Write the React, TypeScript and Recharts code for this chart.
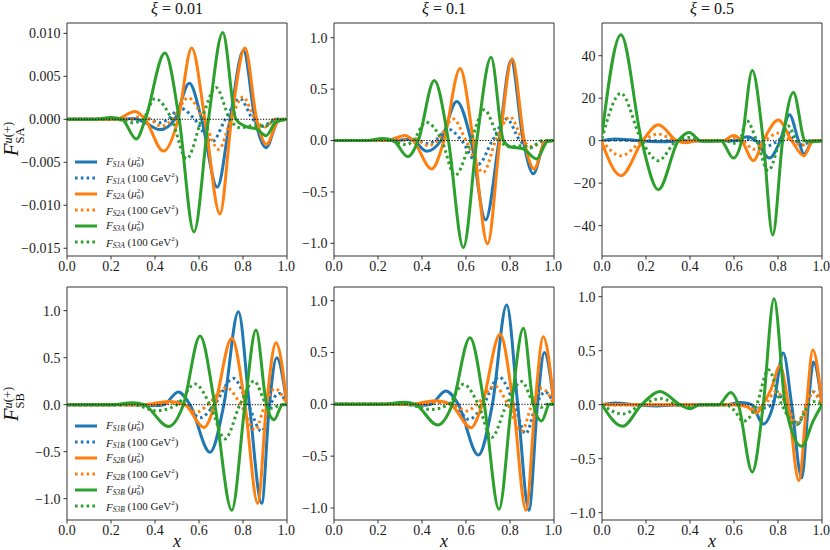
import React from "react";
import { Line, LineChart, ReferenceArea, ReferenceLine, XAxis, YAxis } from "recharts";

type Pt = [number, number];

// x ticks shared by every panel, skewness values for column titles
const X_TICKS = [0, 0.2, 0.4, 0.6, 0.8, 1];
const XI_LABELS = ["0.01", "0.1", "0.5"];

// y ticks per panel
const TICKS_SA_001 = [-0.015, -0.01, -0.005, 0, 0.005, 0.01];
const TICKS_SA_01 = [-1, -0.5, 0, 0.5, 1];
const TICKS_SA_05 = [-40, -20, 0, 20, 40];
const TICKS_SB = [-1, -0.5, 0, 0.5, 1];

// ---- F_SA, xi = 0.01 ----
const SA001_S1_MU: Pt[] = [[0, 0], [0.25, 0], [0.3, 0.0001], [0.35, -0.0003], [0.423, -0.0012], [0.49, 0], [0.556, 0.0042], [0.612, 0], [0.683, -0.0079], [0.741, 0], [0.802, 0.008], [0.855, 0], [0.905, -0.0033], [0.96, -0.0002], [1, 0]];
const SA001_S1_100: Pt[] = [[0, 0], [0.3, 0], [0.35, 0.0002], [0.42, -0.0004], [0.46, 0], [0.515, 0.0013], [0.58, 0], [0.66, -0.0026], [0.72, 0], [0.786, 0.0024], [0.845, 0], [0.89, -0.0008], [0.95, 0], [1, 0]];
const SA001_S2_MU: Pt[] = [[0, 0], [0.22, 0], [0.31, 0.0009], [0.355, 0], [0.438, -0.0037], [0.505, 0], [0.567, 0.0083], [0.627, 0], [0.695, -0.011], [0.748, 0], [0.809, 0.0083], [0.862, 0], [0.907, -0.0029], [0.96, -0.0002], [1, 0]];
const SA001_S2_100: Pt[] = [[0, 0], [0.28, 0], [0.33, 0.0003], [0.38, 0], [0.43, -0.0008], [0.48, 0], [0.551, 0.0025], [0.62, 0], [0.69, -0.0035], [0.745, 0], [0.8, 0.0026], [0.855, 0], [0.9, -0.0009], [0.95, 0], [1, 0]];
const SA001_S3_MU: Pt[] = [[0, 0], [0.12, 0], [0.2, 0.0002], [0.25, 0], [0.315, -0.0023], [0.356, 0], [0.445, 0.0077], [0.51, 0], [0.577, -0.0131], [0.643, 0], [0.708, 0.0101], [0.768, 0], [0.82, -0.0009], [0.86, -0.0011], [0.905, -0.0019], [0.95, -0.0003], [1, 0]];
const SA001_S3_100: Pt[] = [[0, 0], [0.22, 0], [0.3, -0.0004], [0.345, 0], [0.4, 0.0024], [0.476, 0], [0.544, -0.0046], [0.612, 0], [0.677, 0.0037], [0.741, 0], [0.79, -0.001], [0.85, -0.0007], [0.9, -0.0008], [0.95, 0], [1, 0]];

// ---- F_SA, xi = 0.1 ----
const SA01_S1_MU: Pt[] = [[0, 0], [0.28, 0], [0.33, 0.01], [0.36, 0], [0.421, -0.104], [0.486, 0], [0.558, 0.38], [0.623, 0], [0.689, -0.772], [0.75, 0], [0.805, 0.778], [0.86, 0], [0.906, -0.324], [0.96, -0.01], [1, 0]];
const SA01_S1_100: Pt[] = [[0, 0], [0.3, 0], [0.36, 0.02], [0.43, -0.03], [0.46, 0], [0.52, 0.11], [0.58, 0], [0.656, -0.23], [0.72, 0], [0.785, 0.21], [0.845, 0], [0.89, -0.07], [0.96, 0], [1, 0]];
const SA01_S2_MU: Pt[] = [[0, 0], [0.24, 0], [0.323, 0.05], [0.36, 0], [0.444, -0.276], [0.5, 0], [0.573, 0.7], [0.633, 0], [0.698, -1.005], [0.754, 0], [0.81, 0.795], [0.865, 0], [0.91, -0.276], [0.96, -0.01], [1, 0]];
const SA01_S2_100: Pt[] = [[0, 0], [0.3, 0], [0.36, 0.02], [0.43, -0.05], [0.47, 0], [0.542, 0.21], [0.6, 0], [0.679, -0.31], [0.735, 0], [0.8, 0.23], [0.86, 0], [0.9, -0.06], [0.96, 0], [1, 0]];
const SA01_S3_MU: Pt[] = [[0, 0], [0.15, 0], [0.22, 0.02], [0.27, 0], [0.335, -0.156], [0.383, 0], [0.456, 0.584], [0.52, 0], [0.588, -1.04], [0.649, 0], [0.714, 0.81], [0.77, 0], [0.8, -0.06], [0.86, -0.08], [0.921, -0.18], [0.97, -0.01], [1, 0]];
const SA01_S3_100: Pt[] = [[0, 0], [0.25, 0], [0.33, -0.04], [0.36, 0], [0.417, 0.178], [0.49, 0], [0.55, -0.34], [0.623, 0], [0.683, 0.3], [0.754, 0], [0.8, -0.06], [0.86, -0.05], [0.89, -0.07], [0.95, 0], [1, 0]];

// ---- F_SA, xi = 0.5 ----
const SA05_S1_MU: Pt[] = [[0, 0], [0.06, 0.8], [0.15, 0.2], [0.25, -0.5], [0.35, -0.2], [0.45, 0], [0.6, 0], [0.66, 1.9], [0.7, 0], [0.761, -8.2], [0.81, 0], [0.852, 12.2], [0.893, 0], [0.918, -6.3], [0.96, 0], [1, 0]];
const SA05_S1_100: Pt[] = [[0, 0], [0.06, 0.3], [0.2, 0], [0.6, 0], [0.66, 0.6], [0.7, 0], [0.75, -2.5], [0.8, 0], [0.845, 3.7], [0.88, 0], [0.91, -2], [0.96, 0], [1, 0]];
const SA05_S2_MU: Pt[] = [[0, -1], [0.086, -16.5], [0.185, 0], [0.256, 7.5], [0.34, 0], [0.38, -1], [0.43, 0], [0.55, 0], [0.597, 2.4], [0.635, 0], [0.688, -9.4], [0.733, 0], [0.802, 9.7], [0.862, 0], [0.918, -7.1], [0.96, 0], [1, 0]];
const SA05_S2_100: Pt[] = [[0, 0], [0.086, -7.1], [0.185, 0], [0.256, 3.1], [0.34, 0], [0.55, 0], [0.6, 1.2], [0.64, 0], [0.69, -4], [0.74, 0], [0.8, 3.5], [0.86, 0], [0.91, -2.2], [0.96, 0], [1, 0]];
const SA05_S3_MU: Pt[] = [[0, 3], [0.086, 49.9], [0.18, 0], [0.256, -23.1], [0.347, 0], [0.397, 3.9], [0.446, 0], [0.48, -0.3], [0.54, 0], [0.597, -8.2], [0.635, 0], [0.683, 33], [0.733, 0], [0.776, -44.4], [0.821, 0], [0.87, 22.7], [0.923, 0], [0.95, -0.5], [1, 0]];
const SA05_S3_100: Pt[] = [[0, 1], [0.086, 22.3], [0.18, 0], [0.256, -9.4], [0.34, 0], [0.4, 1.5], [0.45, 0], [0.56, 0], [0.6, -1.2], [0.625, 0], [0.658, 9.4], [0.703, 0], [0.756, -14.1], [0.81, 0], [0.845, 7], [0.89, 0], [0.95, 0], [1, 0]];

// ---- F_SB, xi = 0.01 ----
const SB001_S1_MU: Pt[] = [[0, 0], [0.3, 0], [0.4, -0.01], [0.44, 0], [0.506, 0.135], [0.559, 0], [0.65, -0.506], [0.713, 0], [0.779, 0.99], [0.829, 0], [0.885, -1.05], [0.92, 0], [0.953, 0.5], [1, 0]];
const SB001_S1_100: Pt[] = [[0, 0], [0.4, 0], [0.5, 0.03], [0.54, 0], [0.605, -0.14], [0.67, 0], [0.756, 0.28], [0.824, 0], [0.885, -0.285], [0.925, 0], [0.965, 0.12], [1, 0]];
const SB001_S2_MU: Pt[] = [[0, 0], [0.35, 0], [0.46, 0.035], [0.535, 0], [0.623, -0.242], [0.672, 0], [0.749, 0.706], [0.809, 0], [0.867, -1.05], [0.907, 0], [0.95, 0.66], [1, 0]];
const SB001_S2_100: Pt[] = [[0, 0], [0.4, 0], [0.47, 0.02], [0.53, 0], [0.59, -0.08], [0.64, 0], [0.725, 0.18], [0.79, 0], [0.855, -0.27], [0.9, 0], [0.945, 0.17], [1, 0]];
const SB001_S3_MU: Pt[] = [[0, 0], [0.2, 0], [0.3, 0.02], [0.35, 0], [0.461, -0.232], [0.529, 0], [0.605, 0.731], [0.672, 0], [0.749, -1.123], [0.809, 0], [0.859, 0.795], [0.907, 0], [0.941, -0.16], [0.98, 0], [1, 0]];
const SB001_S3_100: Pt[] = [[0, 0], [0.3, 0], [0.407, -0.064], [0.5, 0], [0.582, 0.22], [0.65, 0], [0.718, -0.364], [0.786, 0], [0.85, 0.25], [0.907, 0], [0.935, -0.04], [0.97, 0], [1, 0]];

// ---- F_SB, xi = 0.1 ----
const SB01_S1_MU: Pt[] = [[0, 0], [0.3, 0], [0.4, -0.01], [0.44, 0], [0.508, 0.129], [0.565, 0], [0.656, -0.489], [0.72, 0], [0.785, 0.958], [0.835, 0], [0.886, -1.022], [0.925, 0], [0.956, 0.5], [1, 0]];
const SB01_S1_100: Pt[] = [[0, 0], [0.42, 0], [0.5, 0.02], [0.545, 0], [0.613, -0.145], [0.68, 0], [0.75, 0.264], [0.82, 0], [0.871, -0.283], [0.92, 0], [0.96, 0.12], [1, 0]];
const SB01_S2_MU: Pt[] = [[0, 0], [0.35, 0], [0.46, 0.035], [0.53, 0], [0.623, -0.225], [0.674, 0], [0.755, 0.675], [0.815, 0], [0.873, -1.022], [0.914, 0], [0.951, 0.653], [1, 0]];
const SB01_S2_100: Pt[] = [[0, 0], [0.4, 0], [0.48, 0.02], [0.54, 0], [0.603, -0.064], [0.65, 0], [0.732, 0.177], [0.79, 0], [0.853, -0.257], [0.9, 0], [0.944, 0.155], [1, 0]];
const SB01_S3_MU: Pt[] = [[0, 0], [0.22, 0], [0.32, 0.02], [0.37, 0], [0.471, -0.2], [0.538, 0], [0.618, 0.643], [0.683, 0], [0.75, -1.013], [0.807, 0], [0.861, 0.733], [0.906, 0], [0.944, -0.16], [0.98, 0], [1, 0]];
const SB01_S3_100: Pt[] = [[0, 0], [0.32, 0], [0.444, -0.05], [0.52, 0], [0.588, 0.193], [0.656, 0], [0.716, -0.32], [0.785, 0], [0.853, 0.22], [0.91, 0], [0.94, -0.03], [0.97, 0], [1, 0]];

// ---- F_SB, xi = 0.5 ----
const SB05_S1_MU: Pt[] = [[0, 0], [0.06, 0.015], [0.15, 0], [0.25, -0.012], [0.35, 0], [0.56, 0], [0.63, 0.02], [0.68, 0], [0.733, -0.18], [0.779, 0], [0.824, 0.478], [0.862, 0], [0.908, -0.679], [0.938, 0], [0.961, 0.395], [1, 0]];
const SB05_S1_100: Pt[] = [[0, 0], [0.6, 0], [0.66, 0.01], [0.7, -0.03], [0.74, -0.03], [0.77, 0], [0.8, 0.09], [0.84, 0], [0.89, -0.18], [0.93, 0], [0.96, 0.12], [1, 0]];
const SB05_S2_MU: Pt[] = [[0, 0], [0.6, 0], [0.66, -0.02], [0.703, -0.077], [0.73, 0], [0.77, 0.15], [0.809, 0.36], [0.847, 0], [0.895, -0.704], [0.93, 0], [0.958, 0.506], [1, 0]];
const SB05_S2_100: Pt[] = [[0, 0], [0.62, 0], [0.7, -0.04], [0.74, 0], [0.79, 0.12], [0.84, 0], [0.885, -0.17], [0.93, 0], [0.956, 0.117], [1, 0]];
const SB05_S3_MU: Pt[] = [[0, 0], [0.094, -0.2], [0.18, 0], [0.264, 0.123], [0.355, 0], [0.4, -0.037], [0.445, 0], [0.53, 0], [0.585, 0.114], [0.62, 0], [0.683, -0.623], [0.733, 0], [0.782, 0.981], [0.833, 0], [0.908, -0.386], [0.96, -0.15], [1, 0]];
const SB05_S3_100: Pt[] = [[0, 0], [0.094, -0.086], [0.18, 0], [0.27, 0.056], [0.34, 0], [0.4, -0.02], [0.45, 0], [0.56, 0], [0.6, -0.05], [0.642, -0.154], [0.703, 0], [0.756, 0.324], [0.817, 0], [0.885, -0.185], [0.94, 0], [0.97, 0.03], [1, 0]];

// ---- styling / layout ----
const FONT = "Liberation Serif, DejaVu Serif, serif";
const BLUE = "#1f77b4";
const ORANGE = "#ff7f0e";
const GREEN = "#2ca02c";
const COLORS = [BLUE, BLUE, ORANGE, ORANGE, GREEN, GREEN];
const DOTTED = "2.6 3.2";

const COL_LEFT = [67, 334, 602];
const ROW_TOP = [23, 287];
const PLOT_W = 220;
const PLOT_H = 233;
const AXIS_W = 60;
const TOP_PAD = 10;
const RIGHT_PAD = 8;
const XAXIS_H = 28;

const minus = (s: string) => s.replace("-", "\u2212");
const fmt = (digits: number) => (v: number) => minus(v.toFixed(digits));

interface PanelSpec {
  col: number;
  row: number;
  domain: [number, number];
  ticks: number[];
  digits: number;
  curves: Pt[][];
}

const PANELS: PanelSpec[] = [
  { col: 0, row: 0, domain: [-0.0159, 0.0112], ticks: TICKS_SA_001, digits: 3, curves: [SA001_S1_MU, SA001_S1_100, SA001_S2_MU, SA001_S2_100, SA001_S3_MU, SA001_S3_100] },
  { col: 1, row: 0, domain: [-1.123, 1.143], ticks: TICKS_SA_01, digits: 1, curves: [SA01_S1_MU, SA01_S1_100, SA01_S2_MU, SA01_S2_100, SA01_S3_MU, SA01_S3_100] },
  { col: 2, row: 0, domain: [-54.3, 55.4], ticks: TICKS_SA_05, digits: 0, curves: [SA05_S1_MU, SA05_S1_100, SA05_S2_MU, SA05_S2_100, SA05_S3_MU, SA05_S3_100] },
  { col: 0, row: 1, domain: [-1.227, 1.252], ticks: TICKS_SB, digits: 1, curves: [SB001_S1_MU, SB001_S1_100, SB001_S2_MU, SB001_S2_100, SB001_S3_MU, SB001_S3_100] },
  { col: 1, row: 1, domain: [-1.116, 1.132], ticks: TICKS_SB, digits: 1, curves: [SB01_S1_MU, SB01_S1_100, SB01_S2_MU, SB01_S2_100, SB01_S3_MU, SB01_S3_100] },
  { col: 2, row: 1, domain: [-1.068, 1.09], ticks: TICKS_SB, digits: 1, curves: [SB05_S1_MU, SB05_S1_100, SB05_S2_MU, SB05_S2_100, SB05_S3_MU, SB05_S3_100] },
];

const rows = (pts: Pt[]) => pts.map(([x, y]) => ({ x, y }));

function Panel({ spec }: { spec: PanelSpec }) {
  const left = COL_LEFT[spec.col];
  const top = ROW_TOP[spec.row];
  const tickStyle = { fill: "#1a1a1a", fontSize: 14, fontFamily: FONT };
  return (
    <div style={{ position: "absolute", left: left - AXIS_W, top: top - TOP_PAD }}>
      <LineChart
        width={AXIS_W + PLOT_W + RIGHT_PAD}
        height={TOP_PAD + PLOT_H + XAXIS_H}
        margin={{ top: TOP_PAD, right: RIGHT_PAD, bottom: 0, left: 0 }}
      >
        <XAxis
          type="number"
          dataKey="x"
          domain={[0, 1]}
          ticks={X_TICKS}
          tickFormatter={fmt(1)}
          allowDataOverflow
          height={XAXIS_H}
          axisLine={false}
          tickSize={3.5}
          tickMargin={2}
          tickLine={{ stroke: "#333" }}
          tick={tickStyle}
        />
        <YAxis
          type="number"
          domain={spec.domain}
          ticks={spec.ticks}
          tickFormatter={fmt(spec.digits)}
          allowDataOverflow
          width={AXIS_W}
          axisLine={false}
          tickSize={3.5}
          tickMargin={3}
          tickLine={{ stroke: "#333" }}
          tick={tickStyle}
        />
        {spec.curves.map((pts, i) => (
          <Line
            key={i}
            data={rows(pts)}
            dataKey="y"
            type="monotone"
            stroke={COLORS[i]}
            strokeWidth={3}
            strokeDasharray={i % 2 === 1 ? DOTTED : undefined}
            dot={false}
            activeDot={false}
            isAnimationActive={false}
          />
        ))}
        <ReferenceLine y={0} stroke="#000" strokeWidth={1} strokeDasharray="1.2 1.6" />
        <ReferenceArea
          x1={0}
          x2={1}
          y1={spec.domain[0]}
          y2={spec.domain[1]}
          fill="none"
          stroke="#333"
          strokeWidth={1}
        />
      </LineChart>
    </div>
  );
}

const LEGEND_NAMES = ["1", "1", "2", "2", "3", "3"];

function Legend({ top, letter }: { top: number; letter: string }) {
  return (
    <div style={{ position: "absolute", left: 75, top, fontFamily: FONT, fontSize: 11, color: "#1a1a1a" }}>
      {LEGEND_NAMES.map((n, i) => (
        <div key={i} style={{ display: "flex", alignItems: "center", height: 16 }}>
          <svg width={22} height={6} style={{ marginRight: 9 }}>
            <line
              x1={0}
              y1={3}
              x2={22}
              y2={3}
              stroke={COLORS[i]}
              strokeWidth={3}
              strokeDasharray={i % 2 === 1 ? DOTTED : undefined}
            />
          </svg>
          <span style={{ whiteSpace: "nowrap" }}>
            <i>F</i>
            <i style={{ fontSize: 7.5, position: "relative", top: 2 }}>{`S${n}${letter}`}</i>
            {i % 2 === 0 ? (
              <span>
                {" ("}
                <i>μ</i>
                <span style={{ display: "inline-flex", flexDirection: "column", fontSize: 7, lineHeight: "6.5px", verticalAlign: "middle" }}>
                  <span>2</span>
                  <span>0</span>
                </span>
                {")"}
              </span>
            ) : (
              <span>
                {" (100 GeV"}
                <sup style={{ fontSize: 7 }}>2</sup>
                {")"}
              </span>
            )}
          </span>
        </div>
      ))}
    </div>
  );
}

function YLabel({ cy, sub }: { cy: number; sub: string }) {
  return (
    <div
      style={{
        position: "absolute",
        left: 13,
        top: cy,
        transform: "translate(-50%, -50%) rotate(-90deg)",
        fontFamily: FONT,
        whiteSpace: "nowrap",
        color: "#111",
      }}
    >
      <i style={{ fontSize: 21 }}>F</i>
      <span style={{ display: "inline-flex", flexDirection: "column", fontSize: 12.5, lineHeight: "12px", verticalAlign: "middle" }}>
        <span>
          <i>u</i>(+)
        </span>
        <span>{sub}</span>
      </span>
    </div>
  );
}

export default function App() {
  return (
    <div style={{ position: "absolute", left: 0, top: 0, width: 830, height: 550, background: "#fff", fontFamily: FONT }}>
      {PANELS.map((p, i) => (
        <Panel key={i} spec={p} />
      ))}
      {XI_LABELS.map((xi, i) => (
        <div
          key={xi}
          style={{
            position: "absolute",
            left: COL_LEFT[i] + PLOT_W / 2,
            top: 9,
            transform: "translate(-50%, -50%)",
            fontSize: 16,
            lineHeight: "18px",
            whiteSpace: "nowrap",
            color: "#111",
          }}
        >
          <i>ξ</i> = {xi}
        </div>
      ))}
      {COL_LEFT.map((l, i) => (
        <div
          key={i}
          style={{
            position: "absolute",
            left: l + PLOT_W / 2,
            top: 541,
            transform: "translate(-50%, -50%)",
            fontSize: 18,
            lineHeight: "16px",
            fontStyle: "italic",
            color: "#111",
          }}
        >
          x
        </div>
      ))}
      <YLabel cy={139} sub="SA" />
      <YLabel cy={404} sub="SB" />
      <Legend top={154} letter="A" />
      <Legend top={418} letter="B" />
    </div>
  );
}
